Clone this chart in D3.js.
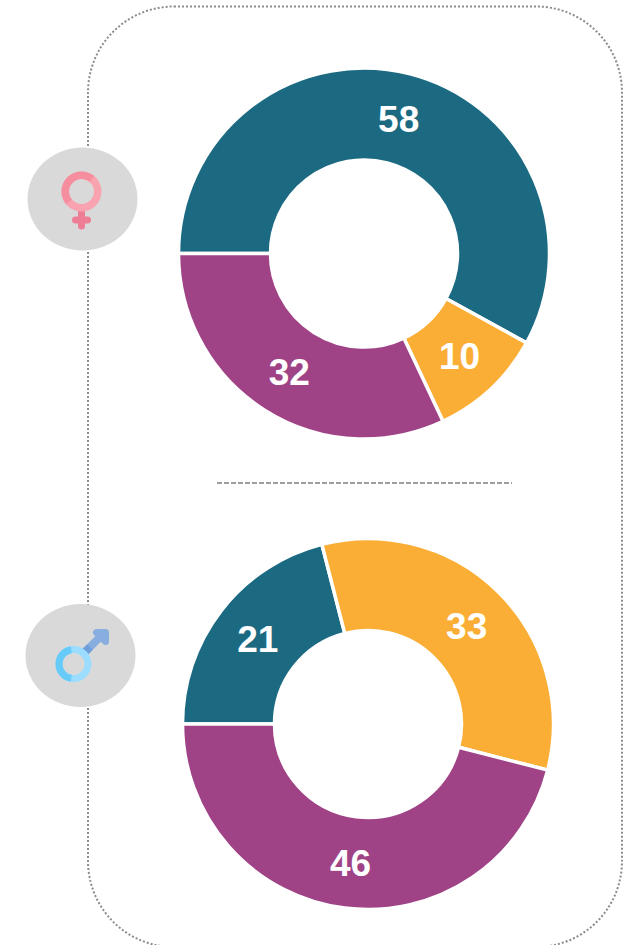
<!DOCTYPE html>
<html>
<head>
<meta charset="utf-8">
<script src="https://cdn.jsdelivr.net/npm/d3@7"></script>
<style>
  html, body { margin: 0; padding: 0; background: #fff; overflow: hidden; }
  svg { display: block; }
  .value { font-family: "Liberation Sans", Arial, sans-serif; font-weight: bold; font-size: 37px; fill: #fff; text-anchor: middle; dominant-baseline: central; }
</style>
</head>
<body>
<script>
var width = 629;
var height = 945;

// values, in drawing order, clockwise from 9 o'clock
var femaleValues = [58, 10, 32];
var maleValues = [21, 33, 46];
var femaleColors = ["#1b6a82", "#fbae36", "#a04386"];
var maleColors = ["#1b6a82", "#fbae36", "#a04386"];

var outerRadius = 185.5;
var innerRadius = 93.5;

var svg = d3.select("body").append("svg")
    .attr("width", width)
    .attr("height", height);

// dotted frame
svg.append("rect")
    .attr("x", 88)
    .attr("y", 6.5)
    .attr("width", 534)
    .attr("height", 940.5)
    .attr("rx", 86)
    .attr("ry", 86)
    .attr("fill", "none")
    .attr("stroke", "#8c8c8c")
    .attr("stroke-width", 2)
    .attr("stroke-dasharray", "2,2");

// dashed divider
svg.append("line")
    .attr("x1", 217)
    .attr("x2", 512)
    .attr("y1", 483)
    .attr("y2", 483)
    .attr("stroke", "#7f7f7f")
    .attr("stroke-width", 1.3)
    .attr("stroke-dasharray", "5,2");

var pie = d3.pie()
    .sort(null)
    .startAngle(-Math.PI / 2)
    .endAngle(Math.PI * 1.5);

var arc = d3.arc()
    .innerRadius(innerRadius)
    .outerRadius(outerRadius);

function donut(values, colors, cx, cy) {
    var g = svg.append("g")
        .attr("transform", "translate(" + cx + "," + cy + ")");

    g.selectAll("path")
        .data(pie(values))
        .enter().append("path")
        .attr("d", arc)
        .attr("fill", function(d, i) { return colors[i]; })
        .attr("stroke", "#fff")
        .attr("stroke-width", 3.5);

    g.selectAll("text")
        .data(pie(values))
        .enter().append("text")
        .attr("class", "value")
        .attr("transform", function(d) {
            var c = arc.centroid(d);
            return "translate(" + c[0] + "," + (c[1] + 1) + ")";
        })
        .text(function(d) { return d.value; });
}

donut(femaleValues, femaleColors, 364, 253.5);
donut(maleValues, maleColors, 368, 724);

// badges
svg.append("ellipse")
    .attr("cx", 82.5).attr("cy", 199)
    .attr("rx", 55).attr("ry", 51.5)
    .attr("fill", "#d9d9d9");
svg.append("ellipse")
    .attr("cx", 80.5).attr("cy", 655.5)
    .attr("rx", 55).attr("ry", 51.5)
    .attr("fill", "#d9d9d9");

// female symbol
var female = svg.append("g").attr("transform", "translate(81.5,191.5)");
female.append("rect")
    .attr("x", -3.5).attr("y", 17).attr("width", 7).attr("height", 21).attr("rx", 3.5)
    .attr("fill", "#ee7e96");
female.append("rect")
    .attr("x", -9.5).attr("y", 25).attr("width", 19).attr("height", 7).attr("rx", 3.5)
    .attr("fill", "#ee7e96");
female.append("path")
    .attr("d", d3.arc().innerRadius(12.5).outerRadius(20).startAngle(0).endAngle(Math.PI * 2)())
    .attr("fill", "#f9a3b0");
female.append("path")
    .attr("d", d3.arc().innerRadius(12.5).outerRadius(20).startAngle(-Math.PI * 0.72).endAngle(Math.PI * 0.22)())
    .attr("fill", "#f58f9f");

// male symbol
var male = svg.append("g");
male.append("line")
    .attr("x1", 84).attr("y1", 653).attr("x2", 100).attr("y2", 637)
    .attr("stroke", "#88aee0").attr("stroke-width", 8);
male.append("line")
    .attr("x1", 84).attr("y1", 653).attr("x2", 90).attr("y2", 647)
    .attr("stroke", "#6f9fdb").attr("stroke-width", 8);
male.append("path")
    .attr("d", "M96.5,632.5 L105.5,632.5 L105.5,641.5 Z")
    .attr("fill", "#88aee0")
    .attr("stroke", "#88aee0")
    .attr("stroke-width", 7)
    .attr("stroke-linejoin", "round");
var maleRing = male.append("g").attr("transform", "translate(73.5,664)");
maleRing.append("path")
    .attr("d", d3.arc().innerRadius(11).outerRadius(18).startAngle(0).endAngle(Math.PI * 2)())
    .attr("fill", "#9cdcff");
maleRing.append("path")
    .attr("d", d3.arc().innerRadius(11).outerRadius(18).startAngle(-Math.PI * 0.95).endAngle(-Math.PI * 0.05)())
    .attr("fill", "#66cbf9");
</script>
</body>
</html>
